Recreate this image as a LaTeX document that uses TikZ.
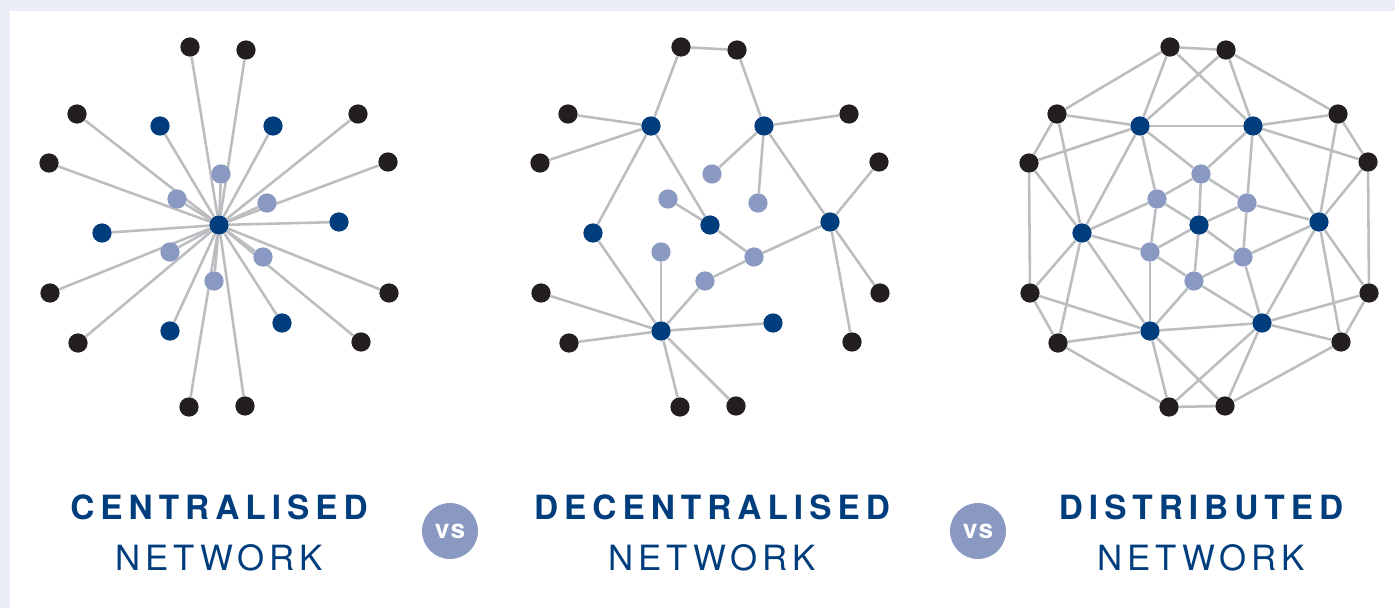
\documentclass[tikz,border=0pt]{standalone}
\usepackage{fontspec}
\setmainfont{TeX Gyre Heros}
\newfontfamily\titolofont{TeX Gyre Heros}[LetterSpace=18]
\newfontfamily\sottofont{TeX Gyre Heros}[LetterSpace=14]
\newfontfamily\vsfont{TeX Gyre Heros}[LetterSpace=6]
\usetikzlibrary{backgrounds}

\definecolor{blurete}{RGB}{0,61,125}
\definecolor{azzurro}{RGB}{138,153,194}
\definecolor{nerodot}{RGB}{35,31,32}
\definecolor{grigiofilo}{RGB}{188,189,192}
\definecolor{fondo}{RGB}{235,238,246}

\tikzset{
	punto/.style={circle, inner sep=0pt, minimum size=0.385cm},
	esterno/.style={punto, fill=nerodot},
	hub/.style={punto, fill=blurete},
	interno/.style={punto, fill=azzurro},
	link/.style={draw=grigiofilo, line width=1.45pt},
	titolo/.style={text=blurete, inner sep=0pt, anchor=base,
		font=\titolofont\bfseries\fontsize{19}{19}\selectfont},
	sotto/.style={text=blurete, inner sep=0pt, anchor=base,
		font=\sottofont\fontsize{19.8}{20}\selectfont},
	vs/.style={circle, fill=azzurro, inner sep=0pt, minimum size=1.12cm,
		text=white, font=\vsfont\bfseries\fontsize{15}{15}\selectfont},
}

\begin{document}
\begin{tikzpicture}[x=0.02cm,y=-0.02cm]
	\useasboundingbox (0,0) rectangle (1395,608);

	% Sfondo e pannello bianco
	\begin{scope}[on background layer]
		\fill[fondo] (0,0) rectangle (1395,608);
		\fill[white] (10,11) rectangle (1395,608);
	\end{scope}

	% Nodi (stessa disposizione per le tre reti)
	\foreach \r/\dx in {c/0, d/491, s/980}{
		\foreach \n/\x/\y in {b1/190/47, b2/246/50, b3/358/114, b4/388/162,
			b5/389/293, b6/361/342, b7/245/406, b8/189/407,
			b9/78/343, b10/50/293, b11/49/163, b12/77/114}
			\node[esterno] (\r\n) at (\x+\dx,\y) {};
		\foreach \n/\x/\y in {h0/219/225, h1/160/126, h2/273/126, h3/339/222,
			h4/282/323, h5/170/331, h6/102/233}
			\node[hub] (\r\n) at (\x+\dx,\y) {};
		\foreach \n/\x/\y in {l1/221/174, l2/267/203, l3/263/257,
			l4/214/281, l5/170/252, l6/177/199}
			\node[interno] (\r\n) at (\x+\dx,\y) {};
	}

	\begin{scope}[on background layer]
		% Rete centralizzata
		\foreach \i in {1,...,12}
			\draw[link] (ch0) -- (cb\i);
		\foreach \i in {1,...,6}{
			\draw[link] (ch0) -- (ch\i);
			\draw[link] (ch0) -- (cl\i);
		}

		% Rete decentralizzata
		\foreach \a/\b in {b1/b2, b1/h1, b2/h2, b12/h1, b11/h1, h2/b3, h2/l1,
			h2/l2, h2/h3, h1/h6, h1/h0, l6/h0, h0/l3, l3/h3, l3/l4, l4/h5,
			h3/b4, h3/b5, h3/b6, h6/h5, l5/h5, b10/h5, b9/h5, h5/b8, h5/b7, h5/h4}
			\draw[link] (d\a) -- (d\b);

		% Rete distribuita
		\foreach \a/\b in {b1/b2, b1/b12, b1/h1, b1/h2, b2/h1, b2/h2, b2/b3,
			b12/h1, b12/b11, b12/h6, b11/h1, b11/h6, b11/b10, h1/h2, h1/l1,
			h1/l6, h1/h6, h2/b3, h2/b4, h2/l1, h2/l2, h2/h3, b3/b4, b3/h3,
			b4/h3, b4/b5, l1/l6, l1/l2, l1/h0, l6/h6, l6/h0, l6/l5, l2/h0,
			l2/h3, l2/l3, h6/l5, h6/h5, h6/b10, h6/b9, h0/l5, h0/l3, h0/l4,
			h3/l3, h3/h4, h3/b5, h3/b6, l5/h5, l5/l4, l3/l4, l3/h4, l4/h5,
			l4/h4, b10/b9, b10/h5, b9/h5, b9/b8, h5/h4, h5/b8, h5/b7, h4/b8,
			h4/b7, h4/b5, h4/b6, b5/b6, b6/b7, b8/b7}
			\draw[link] (s\a) -- (s\b);
	\end{scope}

	% Etichette
	\node[titolo] (tc) at (219,519) {CENTRALISED};
	\node[sotto]  (nc) at (219,570) {NETWORK};
	\node[titolo] (td) at (712,519) {DECENTRALISED};
	\node[sotto]  (nd) at (712,570) {NETWORK};
	\node[titolo] (ts) at (1201,519) {DISTRIBUTED};
	\node[sotto]  (ns) at (1201,570) {NETWORK};

	\node[vs] (vs1) at (450,531) {vs};
	\node[vs] (vs2) at (978,531) {vs};
\end{tikzpicture}
\end{document}
